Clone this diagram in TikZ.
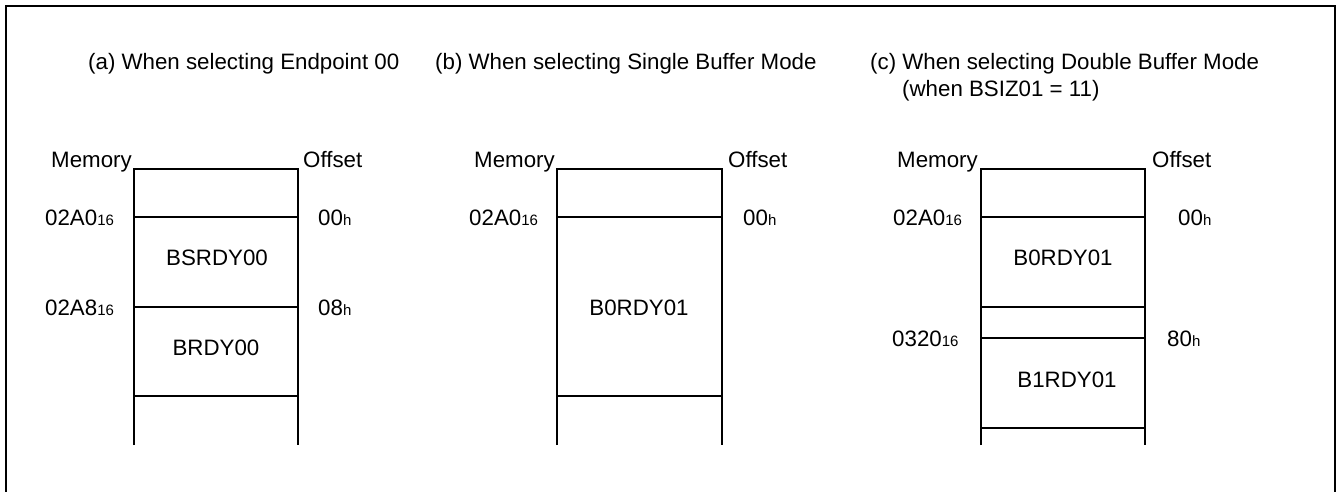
\documentclass[tikz,border=0pt]{standalone}
\usepackage{fontspec}
\setmainfont{Liberation Sans}
\newcommand{\smallsub}[1]{{\fontsize{15}{15}\selectfont #1}}
\begin{document}
\begin{tikzpicture}[x=1pt,y=-1pt,
  txt/.style={inner sep=0pt,anchor=base west,font=\fontsize{22.3}{26}\selectfont},
  cell/.style={inner sep=0pt,anchor=center,font=\fontsize{22.3}{26}\selectfont},
  boxline/.style={line width=1.4pt},
  frameline/.style={line width=2pt}]
\useasboundingbox (0,0) rectangle (1337,491);
\draw[frameline] (6,495) -- (6,6) -- (1335,6) -- (1335,495);

% titles
\node[txt] (ta) at (88,69) {(a) When selecting Endpoint 00};
\node[txt] (tb) at (435,69) {(b) When selecting Single Buffer Mode};
\node[txt] (tc) at (870,69) {(c) When selecting Double Buffer Mode};
\node[txt] (tc2) at (902,96) {(when BSIZ01 = 11)};

% ---------- (a) ----------
\node[txt] (memA) at (51,167) {Memory};
\node[txt] (offA) at (303,167) {Offset};
\draw[boxline] (134,445) -- (134,169) -- (298,169) -- (298,445);
\draw[boxline] (134,217) -- (298,217);
\draw[boxline] (134,307) -- (298,307);
\draw[boxline] (134,396) -- (298,396);
\node[txt] (adA1) at (45,225) {02A0\smallsub{16}};
\node[txt] (ofA1) at (318,225) {00\smallsub{h}};
\node[txt] (adA2) at (45,315) {02A8\smallsub{16}};
\node[txt] (ofA2) at (318,315) {08\smallsub{h}};
\node[cell] (cA1) at (217,258) {BSRDY00};
\node[cell] (cA2) at (216,348) {BRDY00};

% ---------- (b) ----------
\node[txt] (memB) at (474,167) {Memory};
\node[txt] (offB) at (728,167) {Offset};
\draw[boxline] (557,445) -- (557,169) -- (722,169) -- (722,445);
\draw[boxline] (557,217) -- (722,217);
\draw[boxline] (557,396) -- (722,396);
\node[txt] (adB1) at (469,225) {02A0\smallsub{16}};
\node[txt] (ofB1) at (743,225) {00\smallsub{h}};
\node[cell] (cB1) at (639,308) {B0RDY01};

% ---------- (c) ----------
\node[txt] (memC) at (897,167) {Memory};
\node[txt] (offC) at (1152,167) {Offset};
\draw[boxline] (981,445) -- (981,169) -- (1145,169) -- (1145,445);
\draw[boxline] (981,217) -- (1145,217);
\draw[boxline] (981,307) -- (1145,307);
\draw[boxline] (981,338) -- (1145,338);
\draw[boxline] (981,428) -- (1145,428);
\node[txt] (adC1) at (893,225) {02A0\smallsub{16}};
\node[txt] (ofC1) at (1178,225) {00\smallsub{h}};
\node[txt] (adC2) at (892,346) {0320\smallsub{16}};
\node[txt] (ofC2) at (1167,346) {80\smallsub{h}};
\node[cell] (cC1) at (1063,258) {B0RDY01};
\node[cell] (cC2) at (1067,380) {B1RDY01};
\end{tikzpicture}
\end{document}
